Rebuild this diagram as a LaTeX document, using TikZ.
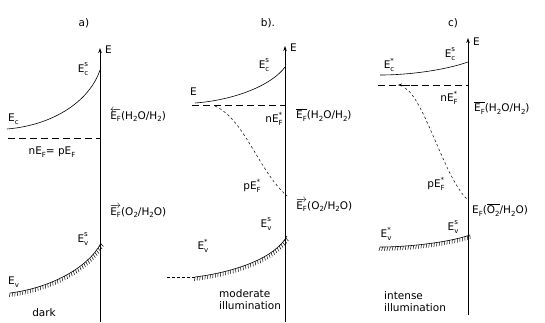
\documentclass[tikz,border=0pt]{standalone}
\usepackage{fontspec}
\setmainfont{DejaVu Sans}
\usetikzlibrary{decorations.pathreplacing,arrows.meta}
\newcommand\scr[1]{{\fontsize{7}{8}\selectfont #1}}
\newcommand\Eud[2]{E\rlap{\raisebox{0.95ex}{\scr{#2}}}\raisebox{-0.55ex}{\scr{#1}}}
\newcommand\Es[1]{E\raisebox{-0.45ex}{\scr{#1}}}
\newcommand\sub[1]{\raisebox{-0.45ex}{\scr{#1}}}
\tikzset{
  lbl/.style={font=\fontsize{10.5}{12}\selectfont, inner sep=0pt},
  axis/.style={line width=0.8pt, -{Stealth[length=5pt,width=3.5pt]}},
  band/.style={line width=0.6pt},
  hatch/.style={postaction={decorate,draw,line width=0.5pt,decoration={border,segment length=2.6pt,amplitude=-4pt,angle=75}}},
  fermi/.style={line width=0.6pt, dash pattern=on 7pt off 4pt},
  quasi/.style={line width=0.5pt, dash pattern=on 2.5pt off 2.5pt},
}
\begin{document}
\begin{tikzpicture}[x=1pt,y=-1pt]
\useasboundingbox (0,0) rectangle (545,322);
% ---------- panel a ----------
\node[lbl] (la) at (84,23) {a)};
\draw[axis] (100,322) -- (100,48);
\node[lbl, anchor=west] (Ea) at (105,50) {E};
\draw[band] (7,129) .. controls (55,125) and (90,100) .. (100,70);
\node[lbl] (Ecsa) at (83,69) {\Eud{c}{s}};
\node[lbl, anchor=west] (Eca) at (8,119) {\Es{c}};
\draw[fermi] (8,138) -- (100,138);
\node[lbl] (nfa) at (52,152) {n\Es{F}= p\Es{F}};
\node[lbl, anchor=west] (redoxa1) at (110,115) {$\overleftarrow{\hbox{\Es{F}}}$(H\sub{2}O/H\sub{2})};
\node[lbl, anchor=west] (redoxa2) at (110,211) {$\overrightarrow{\hbox{\Es{F}}}$(O\sub{2}/H\sub{2}O)};
\draw[band, hatch] (10,293) .. controls (50,288) and (88,268) .. (101,243);
\node[lbl] (Evsa) at (83,239) {\Eud{v}{s}};
\node[lbl, anchor=west] (Eva) at (8,282) {\Es{v}};
\node[lbl] (dark) at (44,313) {dark};
% ---------- panel b ----------
\node[lbl] (lb) at (268,23) {b).};
\draw[axis] (285,322) -- (285,46);
\node[lbl, anchor=west] (Eb) at (290,48) {E};
\draw[band] (195,103) .. controls (235,100) and (272,85) .. (285,67);
\node[lbl, anchor=west] (Ecb) at (190,92) {E};
\node[lbl] (Ecsb) at (264,65) {\Eud{c}{s}};
\draw[fermi] (192,105) -- (285,105);
\node[lbl] (nfb) at (274,119) {n\Eud{F}{*}};
\draw[quasi] (215,106) .. controls (245,120) and (258,170) .. (287,196);
\node[lbl] (pfb) at (252,186) {p\Eud{F}{*}};
\node[lbl, anchor=west] (redoxb1) at (296,115) {$\overline{\hbox{\Es{F}}}$(H\sub{2}O/H\sub{2})};
\node[lbl, anchor=west] (redoxb2) at (296,205) {$\overrightarrow{\hbox{\Es{F}}}$(O\sub{2}/H\sub{2}O)};
\draw[band, hatch] (195,277) .. controls (235,272) and (275,258) .. (287,236);
\draw[quasi] (167,277) -- (195,277);
\node[lbl] (Evsb) at (266,224) {\Eud{v}{s}};
\node[lbl] (Evb) at (203,246) {\Eud{v}{*}};
\node[lbl, anchor=west, align=left] (mod) at (219,300) {moderate\\illumination};
% ---------- panel c ----------
\node[lbl] (lc) at (453,23) {c)};
\draw[axis] (468,315) -- (468,38);
\node[lbl, anchor=west] (Ec) at (473,42) {E};
\draw[band] (380,75) .. controls (410,75) and (445,70) .. (468,62);
\node[lbl] (Ecsc) at (450,54) {\Eud{c}{s}};
\node[lbl] (Ecc) at (389,65) {\Eud{c}{*}};
\draw[fermi] (378,85) -- (468,85);
\draw[line width=0.5pt, -{Stealth[length=4pt,width=3pt]}] (410,85) -- (398,85);
\node[lbl] (nfc) at (449,98) {n\Eud{F}{*}};
\draw[quasi] (405,88) .. controls (425,100) and (445,180) .. (468,200);
\node[lbl] (pfc) at (436,184) {p\Eud{F}{*}};
\node[lbl, anchor=west] (redoxc1) at (474,108) {$\overline{\hbox{\Es{F}}}$(H\sub{2}O/H\sub{2})};
\node[lbl, anchor=west] (redoxc2) at (472,210) {\Es{F}($\overline{\hbox{O\sub{2}}}$/H\sub{2}O)};
\draw[band, hatch] (380,247) .. controls (410,247) and (450,242) .. (470,235);
\node[lbl] (Evsc) at (453,227) {\Eud{v}{s}};
\node[lbl] (Evc) at (386,234) {\Eud{v}{*}};
\node[lbl, anchor=west, align=left] (int) at (384,302) {intense\\illumination};
\end{tikzpicture}
\end{document}
